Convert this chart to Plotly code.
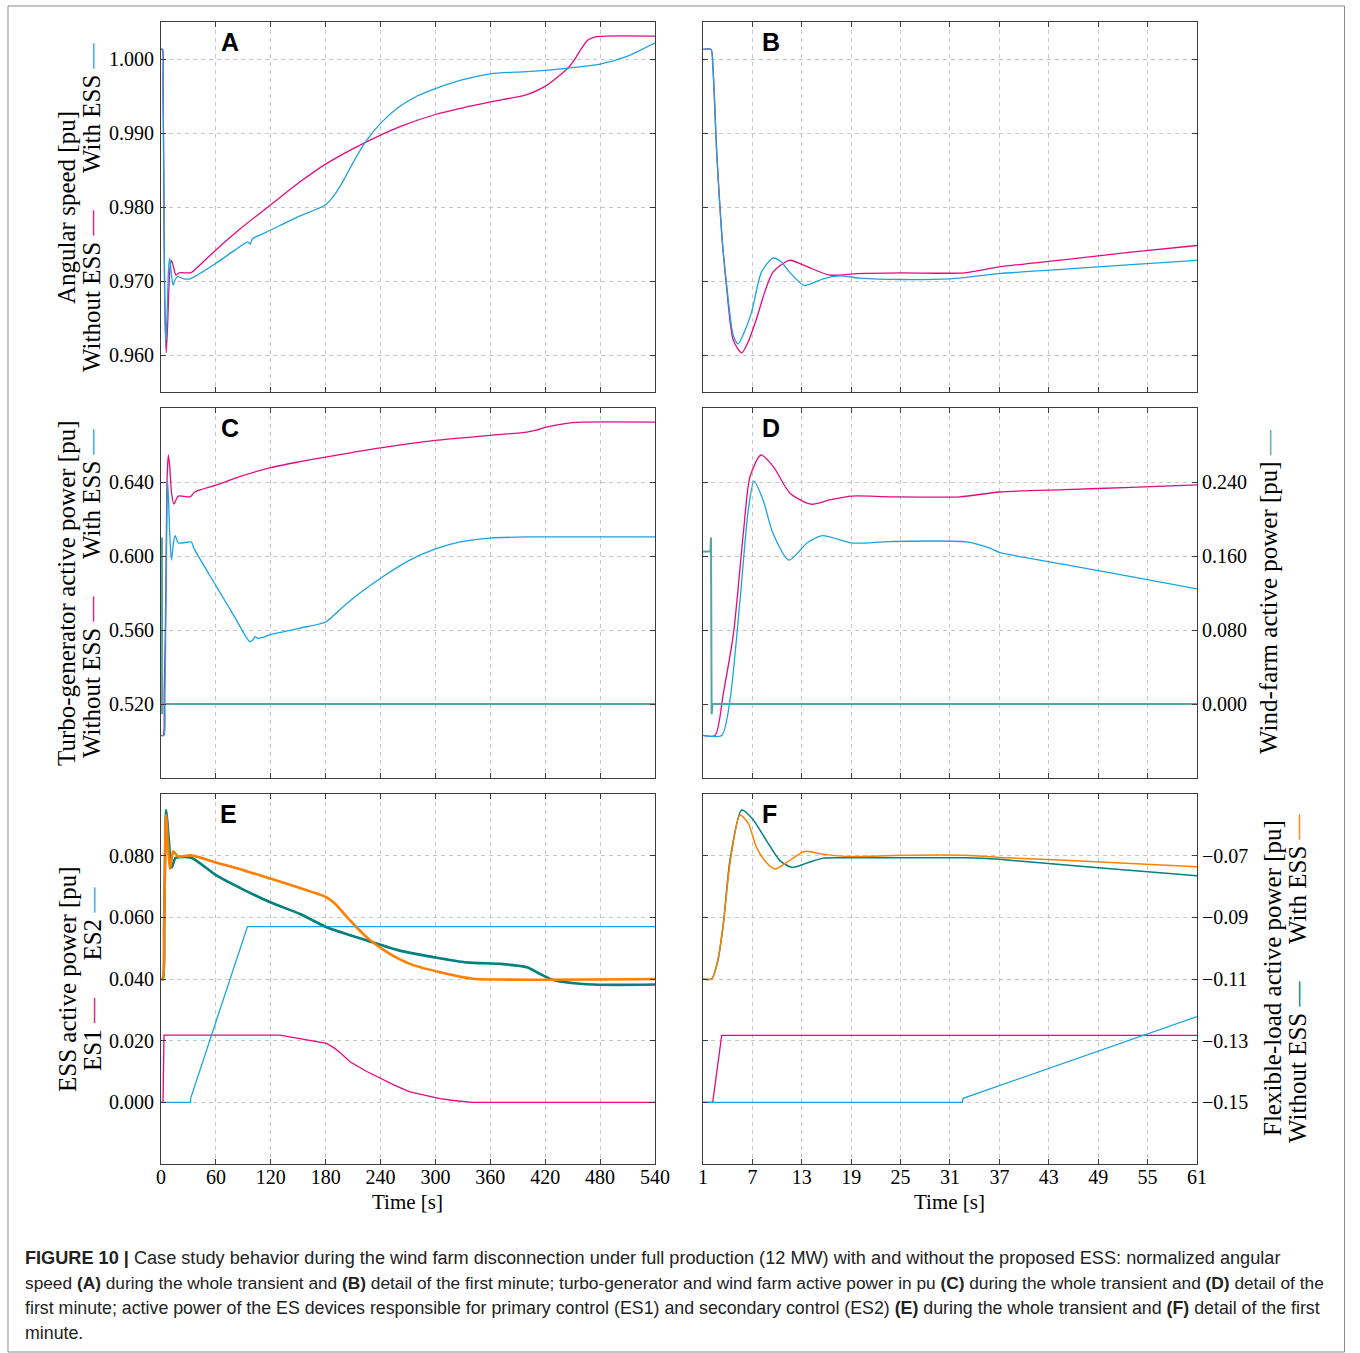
import plotly.graph_objects as go

W, H = 1360, 1353

# ---------------- data ----------------
# Panel A: angular speed, whole transient (t in s)
a_with_t = [0, 1.8, 2.2, 3.0, 4.0, 5.2, 6.8, 8.2, 9.5, 11.3, 13.2, 15.5, 18, 25, 32, 45, 60, 80, 95, 97.5, 100, 110, 130, 152, 170, 180, 190, 200, 210, 223, 240, 260, 280, 300, 330, 360, 400, 440, 480, 510, 540]
a_with_v = [1.0014, 1.0013, 0.997, 0.985, 0.968, 0.9615, 0.9660, 0.9715, 0.9731, 0.9710, 0.9694, 0.9702, 0.9706, 0.9703, 0.9703, 0.9712, 0.9724, 0.9741, 0.9753, 0.9750, 0.9757, 0.9763, 0.9775, 0.9788, 0.9797, 0.9803, 0.9817, 0.9837, 0.9860, 0.9887, 0.9913, 0.9935, 0.9950, 0.9960, 0.9972, 0.9980, 0.9983, 0.9987, 0.9993, 1.0004, 1.0022]
a_without_t = [0, 1.8, 2.2, 3.0, 4.0, 5.7, 7.5, 9.5, 11.5, 13.5, 16.4, 20, 32, 35, 60, 86, 120, 152, 180, 223, 260, 300, 330, 360, 400, 420, 436, 445, 453, 460, 467, 475, 485, 540]
a_without_v = [1.0013, 1.0012, 0.997, 0.985, 0.968, 0.9603, 0.9649, 0.9712, 0.9728, 0.9720, 0.9708, 0.9711, 0.9711, 0.9713, 0.9742, 0.9770, 0.9803, 0.9834, 0.9858, 0.9887, 0.9908, 0.9925, 0.9934, 0.9942, 0.9952, 0.9963, 0.9978, 0.9988, 1.0001, 1.0015, 1.0026, 1.0030, 1.0031, 1.0031]

# Panel B: angular speed, first minute
b_with_t = [1, 1.97, 2.2, 2.67, 3.3, 3.88, 4.68, 5.25, 5.9, 6.9, 8.1, 9.5, 10.5, 11.5, 13.3, 15.6, 17.6, 20, 25, 31, 33, 37, 45, 53, 61]
b_with_v = [1.0013, 1.0013, 0.9990, 0.9873, 0.9760, 0.9694, 0.9626, 0.9615, 0.9628, 0.9658, 0.9712, 0.9731, 0.9726, 0.9712, 0.9694, 0.9703, 0.9707, 0.9704, 0.9702, 0.9703, 0.9705, 0.9710, 0.9716, 0.9722, 0.9728]
b_without_t = [1, 1.97, 2.2, 2.67, 3.3, 3.88, 4.68, 5.7, 6.5, 7.5, 8.5, 9.5, 11.5, 13.5, 16.4, 19.7, 25, 32.8, 37, 45, 53, 61]
b_without_v = [1.0013, 1.0013, 0.9990, 0.9873, 0.9760, 0.9690, 0.9620, 0.9603, 0.9618, 0.9649, 0.9685, 0.9712, 0.9728, 0.9720, 0.9708, 0.9710, 0.9711, 0.9711, 0.9719, 0.9729, 0.9739, 0.9748]

# Panel C: turbo-generator active power, whole transient
c_with_t = [0, 3.3, 4.3, 5.5, 6.5, 7.2, 8.3, 9.5, 11.45, 13.6, 15.5, 19.1, 33, 36, 60, 80, 97, 100, 103, 106, 120, 152, 180, 190, 207, 240, 272, 300, 327, 360, 400, 540]
c_with_v = [0.503, 0.503, 0.5222, 0.5762, 0.6249, 0.6405, 0.6303, 0.6123, 0.5978, 0.6069, 0.6110, 0.6070, 0.6076, 0.6041, 0.5840, 0.5675, 0.5537, 0.5545, 0.5564, 0.5555, 0.5575, 0.5610, 0.5643, 0.5685, 0.5760, 0.5880, 0.5978, 0.6038, 0.6076, 0.6097, 0.6103, 0.6103]
c_without_t = [0, 2.4, 3.47, 4.7, 5.9, 6.7, 8.04, 9.54, 11.57, 14.1, 16.4, 19, 32, 37, 61, 86, 120, 152, 180, 240, 300, 360, 400, 410, 420, 435, 450, 460, 540]
c_without_v = [0.503, 0.503, 0.5258, 0.5580, 0.6123, 0.6427, 0.6546, 0.6483, 0.6339, 0.6280, 0.6303, 0.6324, 0.6320, 0.6346, 0.6384, 0.6429, 0.6478, 0.6510, 0.6535, 0.6585, 0.6625, 0.6652, 0.6670, 0.6680, 0.6695, 0.6710, 0.6721, 0.6724, 0.6724]
# wind farm (right axis, pu)
c_wind_t = [0, 1.0, 1.1, 1.2, 1.3, 540]
c_wind_v = [0.165, 0.165, 0.180, -0.011, 0.0, 0.0]

# Panel D: first minute
d_with_t = [1, 3.27, 4.28, 5.5, 6.5, 7.2, 8.3, 9.5, 11.45, 13.6, 15.5, 19.1, 23.7, 33, 35.9, 37, 45, 53, 61]
d_with_v = [0.503, 0.503, 0.5222, 0.5762, 0.6249, 0.6405, 0.6303, 0.6123, 0.5978, 0.6069, 0.6110, 0.6070, 0.6078, 0.6076, 0.6041, 0.6020, 0.5953, 0.5888, 0.5822]
d_without_t = [1, 2.46, 3.47, 4.7, 5.9, 6.7, 8.04, 9.54, 11.57, 14.1, 16.4, 19.06, 23.7, 32.2, 37, 45, 53, 61]
d_without_v = [0.503, 0.503, 0.5258, 0.5580, 0.6123, 0.6427, 0.6546, 0.6483, 0.6339, 0.6280, 0.6303, 0.6324, 0.6320, 0.6320, 0.6346, 0.6359, 0.6371, 0.6384]
d_wind_t = [1, 1.9, 1.97, 2.05, 2.15, 61]
d_wind_v = [0.165, 0.165, 0.180, -0.011, 0.0, 0.0]

# Panel E: ESS active power (left axis) and flexible load (right axis), whole transient
e_es1_t = [0, 2.2, 3.3, 130, 181, 190, 195, 207, 225, 240, 255, 272, 290, 305, 320, 340, 540]
e_es1_v = [0.0, 0.0, 0.0218, 0.0218, 0.0191, 0.0175, 0.0163, 0.0131, 0.0100, 0.0077, 0.0056, 0.0034, 0.0021, 0.0012, 0.0006, 0.0, 0.0]
e_es2_t = [0, 32.3, 32.4, 94.5, 540]
e_es2_v = [0.0, 0.0, 0.0013, 0.057, 0.057]
e_with_t = [0, 2.0, 3.5, 5.5, 7.5, 9.7, 11.5, 13.4, 16, 19, 33, 60, 90, 120, 152, 181, 190, 207, 225, 247, 272, 305, 341, 380, 540]
e_with_v = [-0.110, -0.110, -0.092, -0.0568, -0.066, -0.0743, -0.0715, -0.0686, -0.0694, -0.0703, -0.0699, -0.0722, -0.0747, -0.0775, -0.0805, -0.0835, -0.0855, -0.0911, -0.0965, -0.1013, -0.1051, -0.1078, -0.1099, -0.1102, -0.1100]
e_without_t = [0, 2.0, 3.5, 5.7, 8, 11.8, 15.6, 19, 33, 61, 90, 120, 152, 181, 225, 261, 298, 334, 371, 400, 414, 429, 473, 540]
e_without_v = [-0.110, -0.110, -0.092, -0.0552, -0.063, -0.0738, -0.0708, -0.0705, -0.0707, -0.0765, -0.0810, -0.0852, -0.0889, -0.0932, -0.0975, -0.1008, -0.1029, -0.1046, -0.1051, -0.1062, -0.1083, -0.1103, -0.1118, -0.1118]

# Panel F: first minute
f_es1_t = [1, 2.18, 3.27, 61]
f_es1_v = [0.0, 0.0, 0.0217, 0.0217]
f_es2_t = [1, 32.5, 32.6, 61]
f_es2_v = [0.0, 0.0, 0.0013, 0.0278]
f_with_t = [1, 2.05, 2.8, 3.47, 4.3, 5.5, 6.5, 7.5, 8.7, 9.74, 11.0, 13.4, 15.5, 19, 25, 33, 37, 45, 61]
f_with_v = [-0.110, -0.110, -0.104, -0.0921, -0.072, -0.0568, -0.0595, -0.0673, -0.0722, -0.0743, -0.0725, -0.0686, -0.0695, -0.0703, -0.0699, -0.0699, -0.0706, -0.0715, -0.0736]
f_without_t = [1, 2.05, 2.8, 3.47, 4.3, 5.7, 7.0, 8.7, 10.35, 11.8, 13.5, 15.6, 19, 25, 33, 37, 49, 61]
f_without_v = [-0.110, -0.110, -0.104, -0.0921, -0.071, -0.0552, -0.0580, -0.0651, -0.0716, -0.0738, -0.0725, -0.0708, -0.0707, -0.0707, -0.0707, -0.0712, -0.0739, -0.0765]

# ticks
x_full_ticks = [0, 60, 120, 180, 240, 300, 360, 420, 480, 540]
x_min_ticks = [1, 7, 13, 19, 25, 31, 37, 43, 49, 55, 61]
a_yticks = [0.960, 0.970, 0.980, 0.990, 1.000]
c_yticks = [0.520, 0.560, 0.600, 0.640]
d_rticks = [0.000, 0.080, 0.160, 0.240]
e_yticks = [0.000, 0.020, 0.040, 0.060, 0.080]
f_rticks = [-0.15, -0.13, -0.11, -0.09, -0.07]

# ---------------- style ----------------
PINK = '#E6097F'
BLUE = '#1BA3E0'
TEAL = '#00807E'
WIND = '#4EA8A8'
ORANGE = '#FF8000'
SERIF = 'Liberation Serif'
SANS = 'Liberation Sans'
FRAME = '#3c3c3c'

def fmt3(v):
    return f"{v:.3f}"

def fmt_minus(v):
    return f"{v:.2f}".replace('-', '\u2212')

# horizontal calibration of the photographed page (page x -> picture x = 5 + 0.9853 * x)
CAL_A, CAL_B = 0.9853, 5.0

def px(x):
    return min(max((x - CAL_B) / CAL_A, 0.0), W) / W

def py(y):
    return 1 - y / H

colL = [px(161), px(655)]
colR = [px(703), px(1197)]
row1 = [py(392), py(22)]
row2 = [py(778), py(408)]
row3 = [py(1164), py(794)]

common = dict(showline=True, linecolor=FRAME, linewidth=1, mirror='ticks', ticks='inside',
              ticklen=5, tickcolor=FRAME, tickwidth=1, showgrid=True, gridcolor='#c6c6c6',
              griddash='4px,4px', gridwidth=1, zeroline=False,
              tickfont=dict(family=SERIF, size=20, color='black'), fixedrange=True)

def xax(domain, anchor, rng, ticks, show):
    return dict(domain=domain, anchor=anchor, range=rng, tickvals=ticks,
                ticktext=[str(t) for t in ticks], showticklabels=show, ticklabelstandoff=-5, **common)

def yax(domain, anchor, rng, ticks, text, show):
    return dict(domain=domain, anchor=anchor, range=rng, tickvals=ticks,
                ticktext=text, showticklabels=show, ticklabelstandoff=2, **common)

fig = go.Figure()

def line(x, y, color, xa, ya, width=1.3, shape='spline'):
    fig.add_trace(go.Scatter(x=x, y=y, mode='lines', xaxis=xa, yaxis=ya,
                             line=dict(color=color, width=width, shape=shape, smoothing=0.7),
                             showlegend=False, hoverinfo='skip'))

# A
line(a_without_t, a_without_v, PINK, 'x', 'y')
line(a_with_t, a_with_v, BLUE, 'x', 'y')
# B
line(b_without_t, b_without_v, PINK, 'x2', 'y2')
line(b_with_t, b_with_v, BLUE, 'x2', 'y2')
# C
line(c_without_t, c_without_v, PINK, 'x3', 'y3')
line(c_with_t, c_with_v, BLUE, 'x3', 'y3')
line(c_wind_t, c_wind_v, WIND, 'x3', 'y8', width=2, shape='linear')
# D
line(d_without_t, d_without_v, PINK, 'x4', 'y4')
line(d_with_t, d_with_v, BLUE, 'x4', 'y4')
line(d_wind_t, d_wind_v, WIND, 'x4', 'y7', width=2, shape='linear')
# E
line(e_es1_t, e_es1_v, PINK, 'x5', 'y5', shape='linear')
line(e_es2_t, e_es2_v, BLUE, 'x5', 'y5', shape='linear')
line(e_without_t, e_without_v, TEAL, 'x5', 'y9', width=2.6)
line(e_with_t, e_with_v, ORANGE, 'x5', 'y9', width=2.6)
# F
line(f_es1_t, f_es1_v, PINK, 'x6', 'y6', shape='linear')
line(f_es2_t, f_es2_v, BLUE, 'x6', 'y6', shape='linear')
line(f_without_t, f_without_v, TEAL, 'x6', 'y10', width=1.5)
line(f_with_t, f_with_v, ORANGE, 'x6', 'y10', width=1.5)

a_range = [0.955, 1.005]
c_range = [0.48, 0.68]
d_rrange = [-0.08, 0.32]
e_range = [-0.02, 0.10]
f_rrange = [-0.17, -0.05]

hidden_overlay = dict(visible=False, fixedrange=True, showgrid=False, zeroline=False)

fig.update_layout(
    width=W, height=H, margin=dict(l=0, r=0, t=0, b=0), autosize=False,
    paper_bgcolor='white', plot_bgcolor='white', showlegend=False,
    xaxis=xax(colL, 'y', [0, 540], x_full_ticks, False),
    yaxis=yax(row1, 'x', a_range, a_yticks, [fmt3(v) for v in a_yticks], True),
    xaxis2=xax(colR, 'y2', [1, 61], x_min_ticks, False),
    yaxis2=yax(row1, 'x2', a_range, a_yticks, [fmt3(v) for v in a_yticks], False),
    xaxis3=xax(colL, 'y3', [0, 540], x_full_ticks, False),
    yaxis3=yax(row2, 'x3', c_range, c_yticks, [fmt3(v) for v in c_yticks], True),
    xaxis4=xax(colR, 'y4', [1, 61], x_min_ticks, False),
    yaxis4=yax(row2, 'x4', c_range, c_yticks, [fmt3(v) for v in c_yticks], False),
    xaxis5=xax(colL, 'y5', [0, 540], x_full_ticks, True),
    yaxis5=yax(row3, 'x5', e_range, e_yticks, [fmt3(v) for v in e_yticks], True),
    xaxis6=xax(colR, 'y6', [1, 61], x_min_ticks, True),
    yaxis6=yax(row3, 'x6', e_range, e_yticks, [fmt3(v) for v in e_yticks], False),
    yaxis7=dict(overlaying='y4', anchor='x4', side='right', range=d_rrange, tickvals=d_rticks,
                ticktext=[fmt3(v) for v in d_rticks], showgrid=False, showline=False, ticks='',
                zeroline=False, ticklabelstandoff=4, fixedrange=True,
                tickfont=dict(family=SERIF, size=20, color='black')),
    yaxis8=dict(overlaying='y3', anchor='x3', range=d_rrange, **hidden_overlay),
    yaxis9=dict(overlaying='y5', anchor='x5', range=f_rrange, **hidden_overlay),
    yaxis10=dict(overlaying='y6', anchor='x6', side='right', range=f_rrange, tickvals=f_rticks,
                 ticktext=[fmt_minus(v) for v in f_rticks], showgrid=False, showline=False, ticks='',
                 zeroline=False, ticklabelstandoff=4, fixedrange=True,
                 tickfont=dict(family=SERIF, size=20, color='black')),
)

ann = []
def text(x, y, s, size=20, family=SERIF, angle=0, xanchor='center', color='black'):
    ann.append(dict(x=px(x), y=py(y), xref='paper', yref='paper', text=s, showarrow=False,
                    textangle=angle, xanchor=xanchor, yanchor='middle',
                    font=dict(family=family, size=size, color=color)))

def dash(c):
    return f"<span style='color:{c}'>\u2014</span>"

SP = '\u00a0' * 6
# panel letters
for lx, ly, L in [(230, 42, 'A'), (771, 42, 'B'), (230, 428, 'C'), (771, 428, 'D'), (229, 814, 'E'), (770, 814, 'F')]:
    text(lx, ly, f"<b>{L}</b>", size=25, family=SANS)

# y titles (rotated)
TS = 25
text(67, 207, "Angular speed [pu]", size=TS, angle=-90)
text(92, 207, f"Without ESS {dash(PINK)}{SP}With ESS {dash(BLUE)}", size=TS, angle=-90)
text(67, 593, "Turbo-generator active power [pu]", size=TS, angle=-90)
text(92, 593, f"Without ESS {dash(PINK)}{SP}With ESS {dash(BLUE)}", size=TS, angle=-90)
text(67, 979, "ESS active power [pu]", size=TS, angle=-90)
text(92, 979, f"ES1 {dash(PINK)}{SP}ES2 {dash(BLUE)}", size=TS, angle=-90)
text(1268, 591, f"Wind-farm active power [pu] {dash(WIND)}", size=TS, angle=-90)
text(1273, 978, "Flexible-load active power [pu]", size=TS, angle=-90)
text(1298, 978, f"Without ESS {dash(TEAL)}{SP}With ESS {dash(ORANGE)}", size=TS, angle=-90)

# x titles
text(408, 1202, "Time [s]", size=21)
text(950, 1202, "Time [s]", size=21)

# caption
cap = [
    "<b>FIGURE 10 |</b> Case study behavior during the wind farm disconnection under full production (12 MW) with and without the proposed ESS: normalized angular",
    "speed <b>(A)</b> during the whole transient and <b>(B)</b> detail of the first minute; turbo-generator and wind farm active power in pu <b>(C)</b> during the whole transient and <b>(D)</b> detail of the",
    "first minute; active power of the ES devices responsible for primary control (ES1) and secondary control (ES2) <b>(E)</b> during the whole transient and <b>(F)</b> detail of the first",
    "minute.",
]
cap_sizes = [18.15, 17.3, 17.8, 17.8]
for i, s in enumerate(cap):
    text(23, 1258 + 25 * i, s, size=cap_sizes[i], family=SANS, xanchor='left', color='#222')

fig.update_layout(annotations=ann)

# outer frame
fig.add_shape(type='rect', xref='paper', yref='paper', x0=px(8), x1=px(1354) - 0.5 / W, y0=py(1352), y1=py(6),
              line=dict(color='#8a8a8a', width=1), fillcolor='rgba(0,0,0,0)', layer='below')

post = ("document.documentElement.style.margin='0px';document.body.style.margin='0px';"
        "document.body.style.overflow='hidden';")

fig.write_html("out.html", config={'displayModeBar': False}, post_script=post)
